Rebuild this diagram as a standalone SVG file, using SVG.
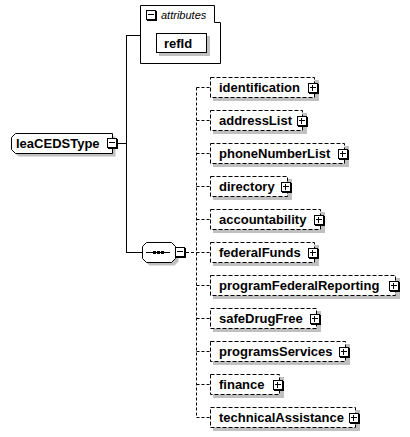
<svg xmlns="http://www.w3.org/2000/svg" xmlns:xlink="http://www.w3.org/1999/xlink" width="410" height="437" viewBox="0 0 410 437">
<style>
.lbl{font-family:"Liberation Sans",Arial,sans-serif;font-weight:bold;font-size:13px;fill:#000}
.att{font-family:"Liberation Sans",Arial,sans-serif;font-style:italic;font-size:11px;fill:#000}
.shd{fill:#c0c0c0;stroke:none}
.box{fill:#fff;stroke:#000;stroke-width:1}
.dbox{fill:#fff;stroke:#000;stroke-width:1;stroke-dasharray:4,2}
.solid{fill:none;stroke:#000;stroke-width:1}
.dash{fill:none;stroke:#000;stroke-width:1;stroke-dasharray:3,2}
</style>
<defs>
<g id="plus">
<rect x="0.5" y="0.5" width="9" height="9" fill="#fff" stroke="#000"/>
<path d="M10.5 1V11M1 10.5H11M2 4.5H8M4.5 2V8" stroke="#000" fill="none"/>
</g>
<g id="minus">
<rect x="0.5" y="0.5" width="9" height="9" fill="#fff" stroke="#000"/>
<path d="M10.5 1V11M1 10.5H11M2 4.5H8" stroke="#000" fill="none"/>
</g>
</defs>
<rect width="410" height="437" fill="#fff"/>

<g id="connectors">
<path class="solid" d="M117 143.5H126.5M126.5 35V253M126 35.5H141M126 252.5H142"/>
<path class="dash" d="M186 252.5H196.5M196.5 87.5V417.5"/>
<path class="dash" d="M196.5 87.5H210M196.5 120.5H210M196.5 153.5H210M196.5 186.5H210M196.5 219.5H210M196.5 252.5H210M196.5 285.5H210M196.5 318.5H210M196.5 351.5H210M196.5 384.5H210M196.5 417.5H210"/>
</g>

<g id="leaCEDSType">
<path class="shd" d="M18.5 136.5H115.5V156.5H18.5L14.5 152.5V140.5Z"/>
<path class="box" d="M15.5 133.5H112.5V153.5H15.5L11.5 149.5V137.5Z"/>
<text class="lbl" x="16" y="148">leaCEDSType</text>
<use xlink:href="#minus" x="107" y="138"/>
</g>

<g id="attributes">
<path class="box" d="M140.5 5.5H214.5V22.5H220.5V63.5H140.5Z"/>
<use xlink:href="#minus" x="146" y="10"/>
<text class="att" x="161" y="19">attributes</text>
</g>

<g id="refId">
<rect class="shd" x="159" y="36" width="51" height="20"/>
<rect class="box" x="156.5" y="33.5" width="50" height="19"/>
<text class="lbl" x="164" y="48">refId</text>
</g>

<g id="sequence">
<path class="shd" d="M149.5 245.5H174.5L178.5 249.5V261.5L174.5 265.5H149.5L145.5 261.5V249.5Z"/>
<path class="box" d="M146.5 242.5H171.5L175.5 246.5V258.5L171.5 262.5H146.5L142.5 258.5V246.5Z"/>
<path class="solid" d="M146 252.5H170"/>
<rect x="153" y="251" width="3" height="3" fill="#000"/>
<rect x="157" y="251" width="3" height="3" fill="#000"/>
<rect x="161" y="251" width="3" height="3" fill="#000"/>
<use xlink:href="#minus" x="175" y="247"/>
</g>

<g id="identification">
<rect class="shd" x="213" y="80" width="106" height="21"/>
<rect class="dbox" x="210.5" y="77.5" width="104" height="20"/>
<text class="lbl" x="219" y="92">identification</text>
<use xlink:href="#plus" x="308" y="83"/>
</g>

<g id="addressList">
<rect class="shd" x="213" y="113" width="94" height="21"/>
<rect class="dbox" x="210.5" y="110.5" width="92" height="20"/>
<text class="lbl" x="219" y="125">addressList</text>
<use xlink:href="#plus" x="297" y="116"/>
</g>

<g id="phoneNumberList">
<rect class="shd" x="213" y="146" width="136" height="21"/>
<rect class="dbox" x="210.5" y="143.5" width="134" height="20"/>
<text class="lbl" x="219" y="158">phoneNumberList</text>
<use xlink:href="#plus" x="338" y="149"/>
</g>

<g id="directory">
<rect class="shd" x="213" y="179" width="79" height="21"/>
<rect class="dbox" x="210.5" y="176.5" width="77" height="20"/>
<text class="lbl" x="219" y="191">directory</text>
<use xlink:href="#plus" x="281" y="182"/>
</g>

<g id="accountability">
<rect class="shd" x="213" y="212" width="112" height="21"/>
<rect class="dbox" x="210.5" y="209.5" width="110" height="20"/>
<text class="lbl" x="219" y="224">accountability</text>
<use xlink:href="#plus" x="314" y="215"/>
</g>

<g id="federalFunds">
<rect class="shd" x="213" y="245" width="106" height="21"/>
<rect class="dbox" x="210.5" y="242.5" width="104" height="20"/>
<text class="lbl" x="219" y="257">federalFunds</text>
<use xlink:href="#plus" x="308" y="248"/>
</g>

<g id="programFederalReporting">
<rect class="shd" x="213" y="278" width="187" height="21"/>
<rect class="dbox" x="210.5" y="275.5" width="185" height="20"/>
<text class="lbl" x="219" y="290">programFederalReporting</text>
<use xlink:href="#plus" x="389" y="281"/>
</g>

<g id="safeDrugFree">
<rect class="shd" x="213" y="311" width="108" height="21"/>
<rect class="dbox" x="210.5" y="308.5" width="106" height="20"/>
<text class="lbl" x="219" y="323">safeDrugFree</text>
<use xlink:href="#plus" x="310" y="314"/>
</g>

<g id="programsServices">
<rect class="shd" x="213" y="344" width="137" height="21"/>
<rect class="dbox" x="210.5" y="341.5" width="135" height="20"/>
<text class="lbl" x="219" y="356">programsServices</text>
<use xlink:href="#plus" x="339" y="347"/>
</g>

<g id="finance">
<rect class="shd" x="213" y="377" width="71" height="21"/>
<rect class="dbox" x="210.5" y="374.5" width="69" height="20"/>
<text class="lbl" x="219" y="389">finance</text>
<use xlink:href="#plus" x="273" y="380"/>
</g>

<g id="technicalAssistance">
<rect class="shd" x="213" y="410" width="147" height="21"/>
<rect class="dbox" x="210.5" y="407.5" width="145" height="20"/>
<text class="lbl" x="219" y="422">technicalAssistance</text>
<use xlink:href="#plus" x="349" y="413"/>
</g>
</svg>
